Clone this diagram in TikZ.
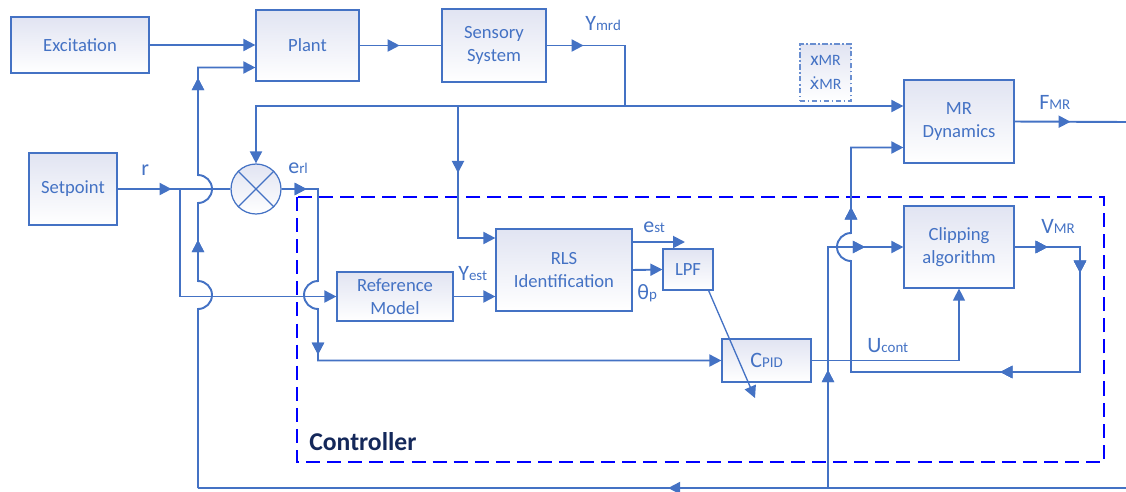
\documentclass[tikz,border=0pt]{standalone}
\usepackage{fontspec}
\setmainfont{Carlito}
\newfontfamily\dejavu{DejaVu Sans}
\usetikzlibrary{arrows.meta, positioning, calc, decorations.markings}
\definecolor{linec}{HTML}{4472C4}
\definecolor{blockfill}{HTML}{E1E4F2}
\definecolor{ctrlc}{HTML}{0000FF}
\definecolor{navy}{HTML}{14285A}
\newcommand{\siglbl}[2]{{\fontsize{12.5}{13}\selectfont #1}{\fontsize{8.5}{9}\selectfont #2}}

\begin{document}
\begin{tikzpicture}[
    x=0.02cm, y=-0.02cm,
    font=\fontsize{10.6}{13}\selectfont,
    text=linec,
    >={Triangle[length=2.4mm,width=2.4mm]},
    block/.style={draw=linec, line width=0.7pt, top color=blockfill, bottom color=white, align=center, inner sep=0pt},
    sig/.style={draw=linec, line width=1.1pt},
    thinsig/.style={draw=linec, line width=0.75pt},
    arrat/.style={postaction={decorate}, decoration={markings, mark=at position #1 with {\arrow{Triangle[length=2.4mm,width=2.4mm]}}}},
    lbl/.style={anchor=base west, inner sep=0pt},
]
    \useasboundingbox (0,0) rectangle (1126,491);
    % controller frame
    \draw[ctrlc, line width=1.1pt, dash pattern=on 8pt off 4pt] (297,197) rectangle (1104,462);
    \node[lbl, font=\fontsize{14.6}{16}\selectfont\bfseries, text=navy] (ctrl) at (309,450) {Controller};

    % blocks
    \node[block, minimum width=2.76cm, minimum height=1.12cm] (exc) at (80,45) {Excitation};
    \node[block, minimum width=2.06cm, minimum height=1.42cm] (plant) at (307.5,45.5) {Plant};
    \node[block, minimum width=2.08cm, minimum height=1.46cm] (sens) at (494,45.5) {Sensory\\System};
    \node[block, minimum width=1.76cm, minimum height=1.44cm] (sp) at (73,189) {Setpoint};
    \node[circle, draw=linec, line width=0.7pt, top color=blockfill, bottom color=white, minimum size=1.0cm, inner sep=0pt] (mul) at (256,189) {};
    \draw[linec, line width=0.7pt] (mul.north west) -- (mul.south east) (mul.north east) -- (mul.south west);
    \node[block, minimum width=2.32cm, minimum height=0.98cm] (refm) at (395,296.5) {Reference\\Model};
    \node[block, minimum width=2.72cm, minimum height=1.64cm] (rls) at (564,270) {RLS\\Identification};
    \node[block, minimum width=1.0cm, minimum height=0.82cm] (lpf) at (688,269.5) {LPF};
    \node[block, minimum width=1.78cm, minimum height=0.86cm] (cpid) at (766.5,360.5) {\siglbl{C}{PID}};
    \node[block, minimum width=2.2cm, minimum height=1.64cm] (clip) at (959,247) {Clipping\\algorithm};
    \node[block, minimum width=2.2cm, minimum height=1.66cm] (mrd) at (959,121.5) {MR\\Dynamics};
    \node[block, draw=linec!80, line width=0.6pt, dash pattern=on 3pt off 1.5pt on 0.8pt off 1.5pt,
          minimum width=1.02cm, minimum height=1.14cm, font=\fontsize{11}{14}\selectfont] (xmr) at (825.5,72.5)
          {{x\fontsize{9}{9}\selectfont MR}\\{{\dejavu\fontsize{9.5}{9}\selectfont ẋ}\fontsize{9}{9}\selectfont MR}};

    % forward path
    \draw[sig, ->] (exc.east) -- (exc.east -| plant.west);
    \draw[sig, arrat=0.49] (plant.east) -- (sens.west);
    \coordinate (fbj) at (625,106);
    \draw[sig, ->, arrat=0.74cm] (sens.east) -- (sens.east -| fbj) -- (fbj) -- (fbj -| mrd.west);
    \draw[sig, ->] (fbj) -- (fbj -| mul.north) -- (mul.north);
    \coordinate (rlsj) at (458,106);
    \draw[sig, ->, arrat=1.34cm] (rlsj) |- ($(rls.west)+(0,-32)$);

    % setpoint and reference
    \draw[sig, arrat=1.08cm] (sp.east) -- (mul.west);
    \coordinate (rj) at (180,189);
    \draw[sig, ->] (rj) |- (refm.west);

    % left return to plant
    \coordinate (botl) at (198,488);
    \draw[sig, ->, arrat=5.28cm, arrat=8.84cm] (botl) -- (198,309) arc(-90:90:0.28cm) -- (198,203) arc(-90:90:0.28cm) |- ($(plant.west)+(0,22)$);
    \coordinate (botr) at (1126,488);
    \coordinate (botj) at (828,488);
    \draw[sig, arrat=9.16cm] (botr) -- (botl);
    \draw[sig, ->, arrat=2.36cm, arrat=5.56cm] (botj) |- (clip.west);

    % error to controller
    \draw[sig, ->, arrat=0.5cm, arrat=4.36cm] (mul.east) -- (318,189) -- (318,281) arc(90:270:0.28cm) |- (cpid.west);
    \draw[sig, ->] (refm.east) -- (refm.east -| rls.west);
    \coordinate (estend) at (685,242);
    \draw[sig, ->] (rls.east |- estend) -- (estend);
    \draw[sig, ->] (rls.east) -- (lpf.west);
    \coordinate (gainend) at (755,398);
    \draw[thinsig, ->] ($(lpf.south east)+(-5,0)$) -- (gainend);
    \draw[thinsig, ->] (cpid.east) -| (clip.south);

    % clipping loop
    \coordinate (vmrc) at (1080,247);
    \draw[sig, ->, arrat=0.66cm, arrat=1.82cm, arrat=5.4cm, arrat=12cm] (clip.east) -- (vmrc) -- (1080,372) -- (851,372) -- (851,261) arc(270:90:0.28cm) |- ($(mrd.west)+(0,26)$);
    \coordinate (fmrend) at (1126,122);
    \draw[sig, arrat=1.12cm] (mrd.east) -- (fmrend);

    % signal labels
    \node[lbl] (ymrd) at (585,30) {\siglbl{Y}{mrd}};
    \node[lbl, font=\fontsize{12.5}{13}\selectfont] (rlab) at (141,175) {r};
    \node[lbl] (erl) at (288,173) {\siglbl{e}{rl}};
    \node[lbl] (yest) at (458,280) {\siglbl{Y}{est}};
    \node[lbl] (est) at (643,232) {\siglbl{e}{st}};
    \node[lbl] (thp) at (637,299) {\siglbl{θ}{p}};
    \node[lbl] (ucont) at (867,352) {\siglbl{U}{cont}};
    \node[lbl] (vmr) at (1041,233) {\siglbl{V}{MR}};
    \node[lbl] (fmr) at (1039,109) {\siglbl{F}{MR}};
\end{tikzpicture}
\end{document}
